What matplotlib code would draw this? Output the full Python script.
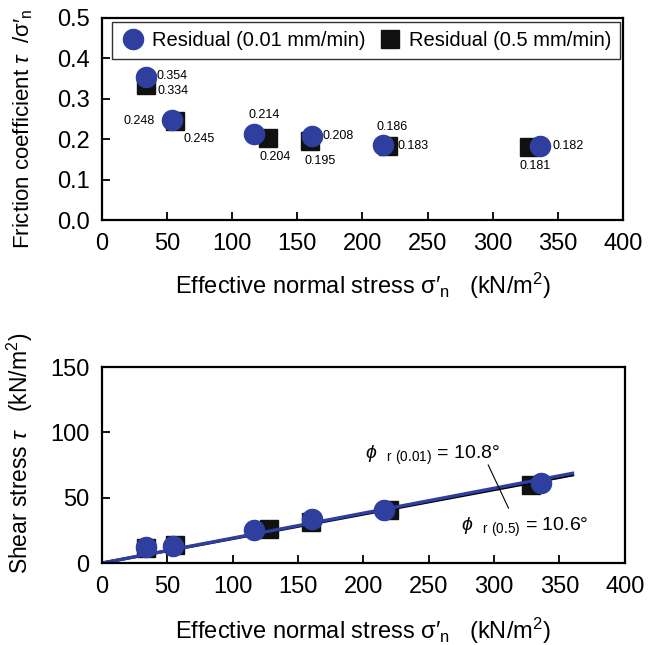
import numpy as np
import matplotlib
matplotlib.use('Agg')
import matplotlib.pyplot as plt

plt.rcParams['font.family'] = ['Liberation Sans', 'DejaVu Sans']
plt.rcParams['mathtext.fontset'] = 'custom'
plt.rcParams['mathtext.rm'] = 'Liberation Sans'
plt.rcParams['mathtext.it'] = 'Liberation Sans:italic'

# residual tests, 0.01 mm/min and 0.5 mm/min
sig_slow = [33.5, 54, 116.5, 161, 216, 336]
mu_slow = [0.354, 0.248, 0.214, 0.208, 0.186, 0.182]
tau_slow = [11.9, 13.4, 24.9, 33.5, 40.2, 61.2]

sig_fast = [34, 56, 127.5, 160, 219.5, 328]
mu_fast = [0.334, 0.245, 0.204, 0.195, 0.183, 0.181]
tau_fast = [11.4, 13.7, 26.0, 31.2, 40.2, 59.4]

# label offsets (points) for each value in the top panel
off_slow = [(8, 1), (-35, -1), (-4, 13), (8, 0), (-5, 13), (9, 0)]
off_fast = [(8, -4), (6, -13), (-6, -14), (-4, -14), (7, 0), (-7, -14)]

phi_slow = 10.8
phi_fast = 10.6
line_x = [0, 360]

blue = '#2E3F9F'
sq = '#111111'

fig = plt.figure(figsize=(6.61, 6.45), dpi=100)
ax1 = fig.add_axes([0.1543, 0.6589, 0.788, 0.3132])
ax2 = fig.add_axes([0.1543, 0.1271, 0.791, 0.3039])

xlab = r"Effective normal stress σ′$_{\mathrm{n}}$   (kN/m$^{2}$)"
fs = 17

# top panel
ax1.plot(sig_fast, mu_fast, 's', color=sq, ms=13, ls='none',
         label='Residual (0.5 mm/min)')
ax1.plot(sig_slow, mu_slow, 'o', color=blue, ms=14.5, ls='none',
         label='Residual (0.01 mm/min)')
for x, y, o in zip(sig_slow, mu_slow, off_slow):
    ax1.annotate('%.3f' % y, (x, y), xytext=o, textcoords='offset points',
                 fontsize=9, va='center', ha='left')
for x, y, o in zip(sig_fast, mu_fast, off_fast):
    ax1.annotate('%.3f' % y, (x, y), xytext=o, textcoords='offset points',
                 fontsize=9, va='center', ha='left')
ax1.set_xlim(0, 400)
ax1.set_ylim(0, 0.5)
ax1.set_yticks(np.arange(0, 0.51, 0.1))
ax1.set_yticklabels(['%.1f' % v for v in np.arange(0, 0.51, 0.1)])
ax1.set_xlabel(xlab, fontsize=fs, labelpad=12)
ax1.set_ylabel(r"Friction coefficient $\tau$  /σ′$_{\mathrm{n}}$", fontsize=16)
ax1.yaxis.set_label_coords(-0.128, 0.45)
h, l = ax1.get_legend_handles_labels()
leg = ax1.legend(h[::-1], l[::-1], loc='upper center', ncol=2, fontsize=14.5,
                 frameon=True, fancybox=False, edgecolor='black',
                 bbox_to_anchor=(0.507, 0.99), borderpad=0.45,
                 handletextpad=0.35, columnspacing=0.6, handlelength=1.2,
                 borderaxespad=0.1)
leg.get_frame().set_linewidth(1.0)

# bottom panel
ax2.plot(sig_fast, tau_fast, 's', color=sq, ms=13, ls='none')
xs = np.array(line_x)
ax2.plot(xs, xs * np.tan(np.radians(phi_fast)), color='black', lw=2.2)
ax2.plot(xs, xs * np.tan(np.radians(phi_slow)), color=blue, lw=2.4)
ax2.plot(sig_slow, tau_slow, 'o', color=blue, ms=14.5, ls='none')
ax2.plot([295.5, 311], [75, 42], color='black', lw=0.8)
ax2.text(201, 82, r"$\phi$  $_{\mathrm{r\ (0.01)}}$ = %.1f°" % phi_slow,
         fontsize=14, va='center', ha='left')
ax2.text(275, 27, r"$\phi$  $_{\mathrm{r\ (0.5)}}$ = %.1f°" % phi_fast,
         fontsize=14, va='center', ha='left')
ax2.set_xlim(0, 400)
ax2.set_ylim(0, 150)
ax2.set_yticks([0, 50, 100, 150])
ax2.set_xlabel(xlab, fontsize=fs, labelpad=13)
ax2.set_ylabel(r"Shear stress $\tau$   (kN/m$^{2}$)", fontsize=16.5)
ax2.yaxis.set_label_coords(-0.128, 0.56)

for ax in (ax1, ax2):
    ax.set_xticks(range(0, 401, 50))
    ax.tick_params(direction='in', length=6, width=1.3, labelsize=fs, pad=9)
    for s in ax.spines.values():
        s.set_linewidth(1.6)

fig.savefig('out.png', dpi=100)
